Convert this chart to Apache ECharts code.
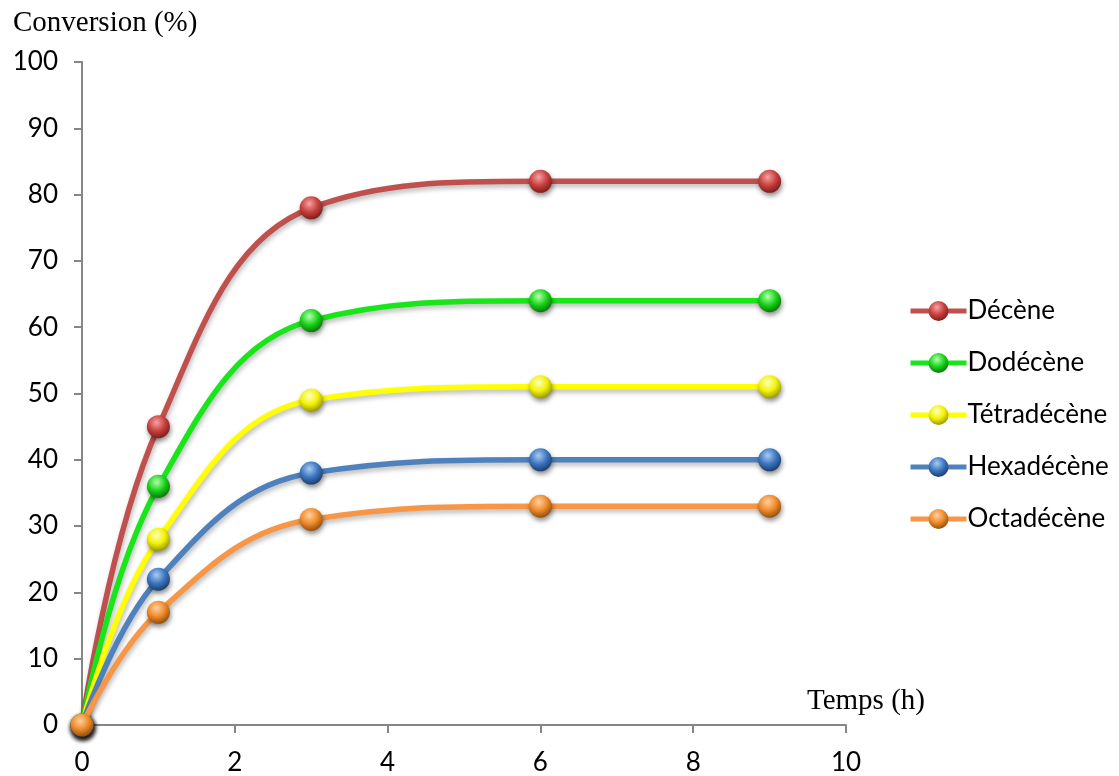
<!DOCTYPE html>
<html>
<head>
<meta charset="utf-8">
<script src="https://cdn.jsdelivr.net/npm/echarts@6/dist/echarts.min.js"></script>
<style>
  html, body { margin: 0; padding: 0; background: #fff; }
  #chart { width: 1119px; height: 776px; }
</style>
</head>
<body>
<div id="chart"></div>
<script>
// Reaction time (h)
const times = [0, 1, 3, 6, 9];
// Conversion (%) for each alkene
const seriesNames = ['Décène', 'Dodécène', 'Tétradécène', 'Hexadécène', 'Octadécène'];
const decene      = [0, 45, 78, 82, 82];
const dodecene    = [0, 36, 61, 64, 64];
const tetradecene = [0, 28, 49, 51, 51];
const hexadecene  = [0, 22, 38, 40, 40];
const octadecene  = [0, 17, 31, 33, 33];
// Axis ticks
const yTicks = [0, 10, 20, 30, 40, 50, 60, 70, 80, 90, 100];
const xTicks = [0, 2, 4, 6, 8, 10];

const values = [decene, dodecene, tetradecene, hexadecene, octadecene];
const lineColors = ['#C0504D', '#19E619', '#FFFF00', '#4F81BD', '#F79646'];
const sphere = [
  ['#F4A3A1', '#C8403D', '#7E1E1C'],
  ['#B6FFB0', '#19D419', '#0A7A0A'],
  ['#FFFFC8', '#F2F200', '#9C9A00'],
  ['#A9CBF2', '#3C76C0', '#1C3F70'],
  ['#FFD1A3', '#EF8A2A', '#94500F']
];

function ball(i) {
  return {
    type: 'radial', x: 0.42, y: 0.32, r: 0.68,
    colorStops: [
      { offset: 0, color: sphere[i][0] },
      { offset: 0.55, color: sphere[i][1] },
      { offset: 1, color: sphere[i][2] }
    ]
  };
}

const series = seriesNames.map((name, i) => ({
  name: name,
  type: 'line',
  smooth: 0.4,
  data: times.map((t, k) => [t, values[i][k]]),
  symbol: 'circle',
  symbolSize: 23,
  lineStyle: {
    color: lineColors[i], width: 5.5,
    shadowColor: 'rgba(0,0,0,0.28)', shadowBlur: 5, shadowOffsetY: 3, shadowOffsetX: 1
  },
  itemStyle: {
    color: ball(i), borderWidth: 0,
    shadowColor: 'rgba(0,0,0,0.45)', shadowBlur: 5, shadowOffsetY: 3, shadowOffsetX: 1
  },
  emphasis: { disabled: true },
  z: 2 + i
}));

const chart = echarts.init(document.getElementById('chart'), null, { renderer: 'canvas' });
chart.setOption({
  animation: false,
  backgroundColor: '#ffffff',
  color: lineColors,
  grid: { left: 82, right: 273, top: 62, bottom: 50, containLabel: false },
  xAxis: {
    type: 'value', min: xTicks[0], max: xTicks[xTicks.length - 1], interval: 2,
    axisLine: { lineStyle: { color: '#868686', width: 2 } },
    axisTick: { show: true, length: 8, lineStyle: { color: '#868686', width: 2 } },
    axisLabel: { color: '#000', fontFamily: 'Lato', fontSize: 26, margin: 25 },
    splitLine: { show: false }
  },
  yAxis: {
    type: 'value', min: yTicks[0], max: yTicks[yTicks.length - 1], interval: 10,
    axisLine: { show: true, lineStyle: { color: '#868686', width: 2 } },
    axisTick: { show: true, length: 8, lineStyle: { color: '#868686', width: 2 } },
    axisLabel: { color: '#000', fontFamily: 'Lato', fontSize: 26, margin: 24 },
    splitLine: { show: false }
  },
  legend: {
    orient: 'vertical', left: 908, top: 298, itemGap: 26, padding: 0,
    itemWidth: 56, itemHeight: 25,
    lineStyle: { width: 5 },
    textStyle: { color: '#000', fontFamily: 'Lato', fontSize: 26, padding: [0, 0, 0, -4] },
    data: seriesNames
  },
  graphic: [
    { type: 'text', left: 13, top: 9, style: { text: 'Conversion (%)', font: '29px "Liberation Serif"', fill: '#000' } },
    { type: 'text', left: 807, top: 687, style: { text: 'Temps (h)', font: '29px "Liberation Serif"', fill: '#000' } }
  ],
  series: series
});
</script>
</body>
</html>
